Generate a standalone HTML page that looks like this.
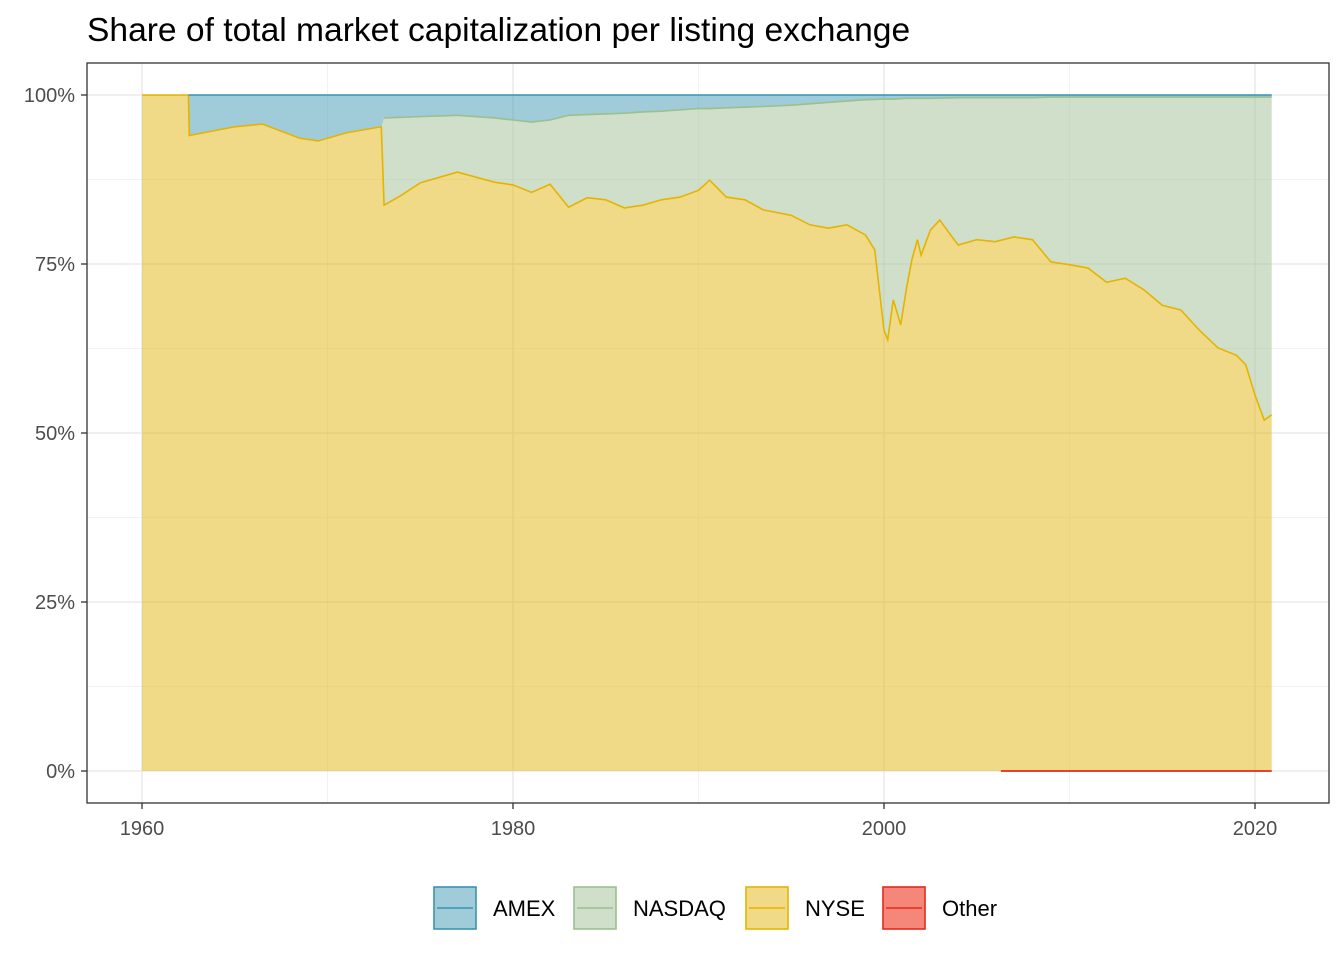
<!DOCTYPE html>
<html><head><meta charset="utf-8"><style>
html,body{margin:0;padding:0;background:#fff;}
svg{display:block;font-family:"Liberation Sans",Arial,sans-serif;}
</style></head><body>
<svg id="chart" width="1344" height="960" viewBox="0 0 1344 960">
<rect width="1344" height="960" fill="#fff"/>
<text x="87" y="41" font-size="33.6" fill="#000">Share of total market capitalization per listing exchange</text>
<g id="grid"></g>
<g id="areas"></g>
<g id="lines"></g>
<rect x="87" y="63" width="1242" height="740" fill="none" stroke="#333" stroke-width="1.3"/>
<g id="axes"></g>
<g id="legend"></g>
</svg>
<script>
const years=[1960,1962.5,1962.55,1965,1966.5,1968.5,1969.5,1971,1972.9,1973.05,1974,1975,1977,1979,1980,1981,1982,1983,1984,1985,1986,1987,1988,1989,1990,1990.6,1991.5,1992.5,1993.5,1995,1996,1997,1998,1999,1999.5,2000,2000.2,2000.5,2000.9,2001.2,2001.5,2001.8,2002,2002.5,2003,2004,2005,2006,2007,2008,2009,2010,2011,2012,2013,2014,2015,2016,2017,2018,2019,2019.5,2020,2020.5,2020.9];
const nyse=[100,100,94,95.3,95.7,93.6,93.2,94.4,95.3,83.7,85.2,87,88.6,87.1,86.7,85.6,86.8,83.4,84.8,84.5,83.3,83.7,84.5,84.9,85.9,87.4,84.9,84.5,83,82.2,80.8,80.3,80.8,79.3,77.1,65.2,63.8,69.7,66,71.2,75.6,78.6,76.3,80,81.5,77.8,78.6,78.3,79,78.6,75.3,74.9,74.4,72.3,72.9,71.2,68.9,68.2,65.2,62.6,61.5,60.1,55.6,51.9,52.7];
const nasdaq=[0,0,0,0,0,0,0,0,0,12.9,11.5,9.8,8.4,9.5,9.6,10.4,9.5,13.6,12.3,12.7,14,13.8,13.1,12.9,12.1,10.6,13.2,13.7,15.3,16.3,17.9,18.6,18.3,20,22.25,34.2,35.6,29.7,33.45,28.3,23.9,20.9,23.2,19.5,18.05,21.8,21,21.3,20.6,21,24.4,24.8,25.3,27.4,26.8,28.5,30.8,31.5,34.5,37.1,38.2,39.6,44.1,47.8,47];
const amex=[0,0,6,4.7,4.3,6.4,6.8,5.6,4.7,3.4,3.3,3.2,3,3.4,3.7,4,3.7,3,2.9,2.8,2.7,2.5,2.4,2.2,2,2,1.9,1.8,1.7,1.5,1.3,1.1,0.9,0.7,0.65,0.6,0.6,0.6,0.55,0.5,0.5,0.5,0.5,0.5,0.45,0.4,0.4,0.4,0.4,0.4,0.3,0.3,0.3,0.3,0.3,0.3,0.3,0.3,0.3,0.3,0.3,0.3,0.3,0.3,0.3];
const otherYears=[2006.3,2020.9];
const other=[0,0];
const xTicks=[1960,1980,2000,2020];
const xMinor=[1970,1990,2010];
const yTicks=[0,25,50,75,100];
const yTickLabels=["0%","25%","50%","75%","100%"];
const yMinor=[12.5,37.5,62.5,87.5];

const X=y=>142+(y-1960)*(1255-142)/60;
const Y=p=>771-p*(771-95)/100;
const NS="http://www.w3.org/2000/svg";
function mk(tag,attrs,parent){const e=document.createElementNS(NS,tag);for(const k in attrs)e.setAttribute(k,attrs[k]);parent.appendChild(e);return e;}
const grid=document.getElementById('grid'),areas=document.getElementById('areas'),lines=document.getElementById('lines'),axes=document.getElementById('axes'),legend=document.getElementById('legend');

yMinor.forEach(v=>{const l=mk('line',{x1:87,x2:1329,y1:Y(v),y2:Y(v),stroke:'#f2f2f2','stroke-width':1},grid);

});
xMinor.forEach(v=>{const l=mk('line',{x1:X(v),x2:X(v),y1:63,y2:803,stroke:'#f2f2f2','stroke-width':1},grid);

});
yTicks.forEach((v,i)=>{const l=mk('line',{x1:87,x2:1329,y1:Y(v),y2:Y(v),stroke:'#e6e6e6','stroke-width':1.3},grid);


const t=mk('line',{x1:81,x2:87,y1:Y(v),y2:Y(v),stroke:'#333','stroke-width':1.3},axes);


const tx=mk('text',{x:75,y:Y(v)+7,'text-anchor':'end','font-size':20,fill:'#4d4d4d'},axes);
tx.textContent=yTickLabels[i];

});
xTicks.forEach(v=>{const l=mk('line',{x1:X(v),x2:X(v),y1:63,y2:803,stroke:'#e6e6e6','stroke-width':1.3},grid);


const t=mk('line',{x1:X(v),x2:X(v),y1:803,y2:809,stroke:'#333','stroke-width':1.3},axes);


const tx=mk('text',{x:X(v),y:835,'text-anchor':'middle','font-size':20,fill:'#4d4d4d'},axes);
tx.textContent=v;

});

const lo=years.map(()=>0);
const s1=nyse.slice();
const s2=nyse.map((v,i)=>v+nasdaq[i]);
const s3=s2.map((v,i)=>v+amex[i]);
function areaPath(bot,top){let d='M'+years.map((y,i)=>X(y)+','+Y(top[i])).join('L');
for(let i=years.length-1;i>=0;i--)d+='L'+X(years[i])+','+Y(bot[i]);return d+'Z';}
function linePath(top,startIdx){return 'M'+years.slice(startIdx).map((y,j)=>X(y)+','+Y(top[j+startIdx])).join('L');}
const series=[
 {name:'nyse',bot:lo,top:s1,fill:'#e1b50f',stroke:'#e5b400',start:0},
 {name:'nasdaq',bot:s1,top:s2,fill:'#a1bf93',stroke:'#9cbf8c',start:9},
 {name:'amex',bot:s2,top:s3,fill:'#4197b1',stroke:'#3a94b0',start:1}];
series.forEach(s=>{const a=mk('path',{d:areaPath(s.bot,s.top),fill:s.fill,'fill-opacity':0.5},areas);


const l=mk('path',{d:linePath(s.top,s.start),fill:'none',stroke:s.stroke,'stroke-width':1.6},lines);

});
const ol=mk('path',{d:'M'+otherYears.map((y,i)=>X(y)+','+Y(other[i])).join('L'),fill:'none',stroke:'#e8291c','stroke-width':1.8},lines);



const leg=[{n:'AMEX',x:433,f:'#a0cbd8',s:'#3a94b0'},{n:'NASDAQ',x:573,f:'#d0dfc9',s:'#9cbf8c'},{n:'NYSE',x:745,f:'#f0da87',s:'#e5b400'},{n:'Other',x:882,f:'#f5877a',s:'#e8291c'}];
leg.forEach(k=>{const g=mk('g',{},legend);


mk('rect',{x:k.x+1,y:887,width:42,height:42,fill:k.f,stroke:k.s,'stroke-width':1.6},g);
mk('line',{x1:k.x+4,x2:k.x+40,y1:908,y2:908,stroke:k.s,'stroke-width':1.6},g);
const t=mk('text',{x:k.x+60,y:916,'font-size':22,fill:'#000'},g);t.textContent=k.n;});
</script>
</body></html>
